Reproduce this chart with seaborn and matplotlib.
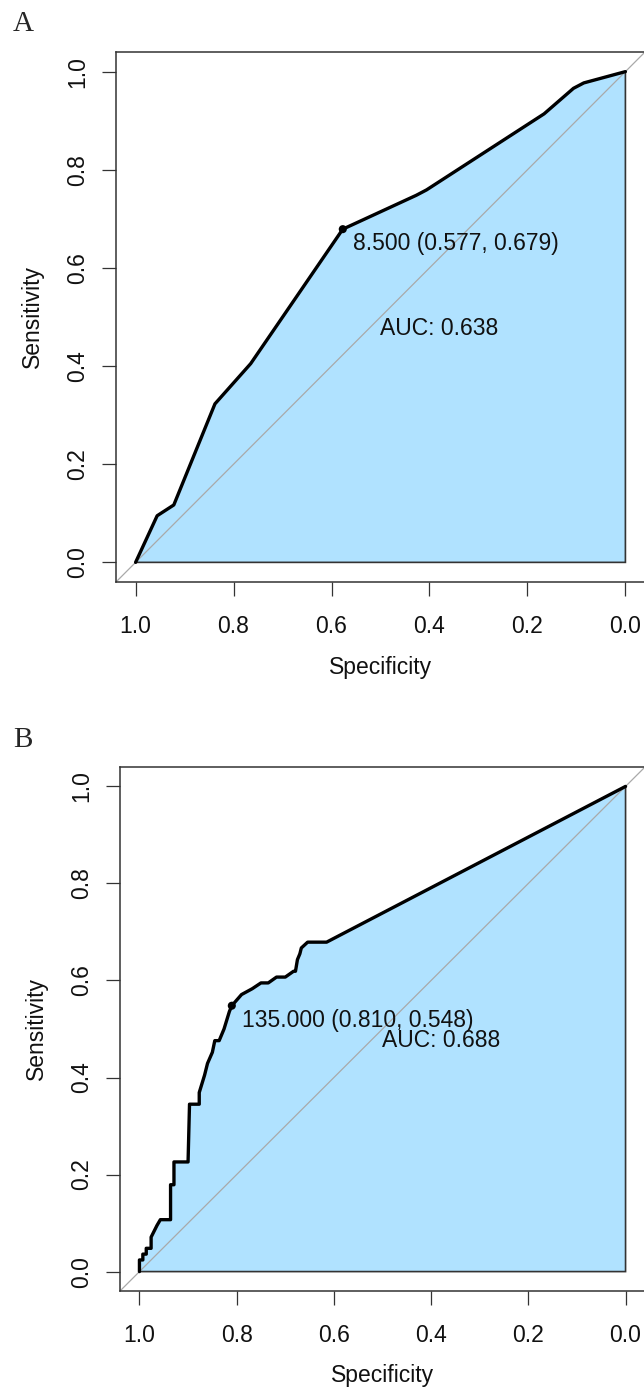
import numpy as np
import matplotlib
matplotlib.use("Agg")
import matplotlib.pyplot as plt
import seaborn as sns

# ROC curve A (specificity, sensitivity)
spec_a = [1.000, 0.956, 0.922, 0.838, 0.765, 0.577, 0.427, 0.406, 0.166, 0.106, 0.085, 0.000]
sens_a = [0.000, 0.095, 0.117, 0.323, 0.405, 0.679, 0.748, 0.759, 0.914, 0.966, 0.977, 1.000]
thres_a = (0.577, 0.679)
thres_label_a = "8.500 (0.577, 0.679)"
auc_label_a = "AUC: 0.638"

# ROC curve B
spec_b = [1.000, 1.000, 0.993, 0.993, 0.986, 0.986, 0.976, 0.976, 0.970, 0.964,
          0.957, 0.936, 0.936, 0.929, 0.929, 0.900, 0.897, 0.877, 0.877, 0.866,
          0.860, 0.850, 0.845, 0.836, 0.826, 0.815, 0.810, 0.790, 0.768, 0.750,
          0.735, 0.718, 0.700, 0.683, 0.679, 0.675, 0.670, 0.667, 0.654, 0.615,
          0.000]
sens_b = [0.000, 0.024, 0.024, 0.036, 0.036, 0.048, 0.048, 0.071, 0.083, 0.095,
          0.107, 0.107, 0.179, 0.179, 0.226, 0.226, 0.345, 0.345, 0.369, 0.405,
          0.429, 0.452, 0.476, 0.476, 0.500, 0.536, 0.548, 0.571, 0.583, 0.595,
          0.595, 0.607, 0.607, 0.619, 0.619, 0.643, 0.655, 0.667, 0.679, 0.679,
          1.000]
thres_b = (0.810, 0.548)
thres_label_b = "135.000 (0.810, 0.548)"
auc_label_b = "AUC: 0.688"

ticks = [1.0, 0.8, 0.6, 0.4, 0.2, 0.0]
tick_labels = ["1.0", "0.8", "0.6", "0.4", "0.2", "0.0"]

sns.set_style("white")
plt.rcParams["font.family"] = ["Liberation Sans", "DejaVu Sans"]

W, H = 644, 1391
fig = plt.figure(figsize=(W / 100, H / 100), dpi=100)


def px_axes(left, top, right, bottom):
    return fig.add_axes([left / W, 1 - bottom / H, (right - left) / W, (bottom - top) / H])


def roc_panel(ax, spec, sens, thres, thres_label, auc_label):
    fs = 16.5
    # AUC polygon
    ax.fill(np.r_[spec, 0.0], np.r_[sens, 0.0], facecolor="#B0E2FF",
            edgecolor="#333333", linewidth=1.2, zorder=1)
    # identity line
    ax.plot([1.04, -0.04], [-0.04, 1.04], color="#A9A9A9", lw=0.9, zorder=2)
    sns.lineplot(x=spec, y=sens, sort=False, estimator=None, color="black",
                 lw=2.4, ax=ax, zorder=3)
    sns.scatterplot(x=[thres[0]], y=[thres[1]], color="black", s=34, ax=ax,
                    zorder=4, edgecolor="none")
    ax.annotate(thres_label, xy=thres, xytext=(10, -14.5), textcoords="offset pixels",
                ha="left", va="center", fontsize=fs, color="#111111", zorder=5)
    ax.text(0.5, 0.5, auc_label, ha="left", va="top", fontsize=fs, color="#111111", zorder=5)

    ax.set_xlim(1.04, -0.04)
    ax.set_ylim(-0.04, 1.04)
    ax.set_xticks(ticks)
    ax.set_xticklabels(tick_labels, fontsize=fs, color="#111111")
    ax.set_yticks(ticks)
    ax.set_yticklabels(tick_labels, fontsize=fs, color="#111111", rotation=90, va="center")
    ax.tick_params(axis="x", direction="out", length=10, width=0.9, color="#333333", pad=14)
    ax.tick_params(axis="y", direction="out", length=10, width=0.9, color="#333333", pad=9)
    ax.tick_params(bottom=True, left=True)
    for s in ax.spines.values():
        s.set_color("#333333")
        s.set_linewidth(1.1)
    ax.set_xlabel("Specificity", fontsize=fs, color="#111111")
    ax.set_ylabel("Sensitivity", fontsize=fs, color="#111111")
    ax.xaxis.set_label_coords(0.5, -0.14)
    ax.yaxis.set_label_coords(-0.137, 0.5)


ax_a = px_axes(116, 52, 645, 582)
roc_panel(ax_a, spec_a, sens_a, thres_a, thres_label_a, auc_label_a)

ax_b = px_axes(120, 767, 645, 1291)
roc_panel(ax_b, spec_b, sens_b, thres_b, thres_label_b, auc_label_b)

fig.text(13 / W, 1 - 31 / H, "A", family="Liberation Serif", fontsize=21, va="baseline")
fig.text(13 / W, 1 - 747 / H, "B", family="Liberation Serif", fontsize=21, va="baseline")

fig.savefig("out.png", dpi=100)
